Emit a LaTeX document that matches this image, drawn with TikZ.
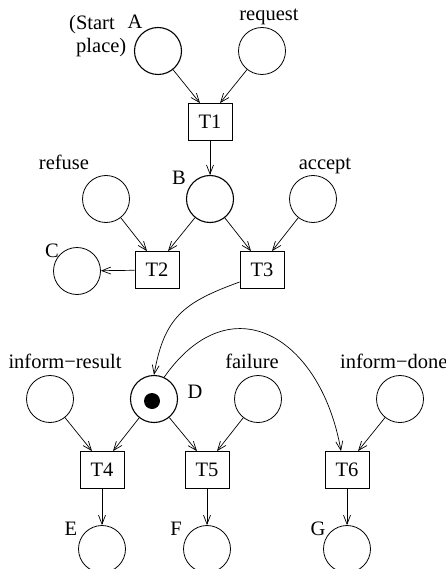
\documentclass[tikz,border=0pt]{standalone}
\usepackage{fontspec}
\setmainfont{Liberation Serif}
\usepackage{tikz}
\usetikzlibrary{arrows.meta,positioning}

\begin{document}
\begin{tikzpicture}[x=1pt,y=-1pt,font=\fontsize{20.5}{23}\selectfont,
  place/.style={circle,draw,line width=0.8pt,minimum size=47pt,inner sep=0pt},
  mainplace/.style={place,line width=1.1pt},
  trans/.style={rectangle,draw,line width=0.8pt,minimum width=44pt,minimum height=37pt,inner sep=0pt},
  token/.style={circle,fill,minimum size=16pt,inner sep=0pt},
  lbl/.style={inner sep=0pt,anchor=base},
  arc/.style={line width=0.7pt,-{Straight Barb[length=9pt,width=7pt]}}]
\useasboundingbox (0,0) rectangle (446,569);
% places
\node[mainplace] (a) at (158,51) {};
\node[place] (req) at (262,51) {};
\node[mainplace] (b) at (210,199) {};
\node[place] (ref) at (106,199) {};
\node[place] (acc) at (313,199) {};
\node[place] (c) at (77,271) {};
\node[place] (infres) at (50,399) {};
\node[mainplace] (d) at (154,399) {};
\node[place] (fail) at (258,399) {};
\node[place] (infdone) at (400,399) {};
\node[place] (e) at (102,549) {};
\node[place] (f) at (207,549) {};
\node[place] (g) at (347,549) {};
\node[token] (tok) at (152,401) {};
% transitions
\node[trans] (t1) at (210,122) {T1};
\node[trans] (t2) at (157,270) {T2};
\node[trans] (t3) at (262,270) {T3};
\node[trans] (t4) at (102,470) {T4};
\node[trans] (t5) at (207,470) {T5};
\node[trans] (t6) at (347,470) {T6};
% labels
\node[inner sep=0pt,anchor=north west,align=left] (startlbl) at (69,15) {(Start\\\hspace*{7pt}place)};
\node[lbl] (albl) at (135,29) {A};
\node[lbl] (reqlbl) at (269,21) {request};
\node[lbl] (blbl) at (179,185) {B};
\node[lbl] (reflbl) at (64,170) {refuse};
\node[lbl] (acclbl) at (325,170) {accept};
\node[lbl] (clbl) at (52,257) {C};
\node[lbl] (infreslbl) at (65,368) {inform−result};
\node[lbl] (faillbl) at (252,368) {failure};
\node[lbl,anchor=base west] (infdonelbl) at (340,368) {inform−done};
\node[lbl] (dlbl) at (195,398) {D};
\node[lbl] (elbl) at (71,535) {E};
\node[lbl] (flbl) at (176,535) {F};
\node[lbl] (glbl) at (318,535) {G};
% arcs
\draw[arc] (a) -- ([xshift=-10pt]t1.north);
\draw[arc] (req) -- ([xshift=10pt]t1.north);
\draw[arc] (t1) -- (b);
\draw[arc] (ref) -- ([xshift=-10pt]t2.north);
\draw[arc] (b) -- ([xshift=11pt]t2.north);
\draw[arc] (b) -- ([xshift=-11pt]t3.north);
\draw[arc] (acc) -- ([xshift=10pt]t3.north);
\draw[arc] (t2) -- (c);
\draw[arc] ([yshift=-12pt]t3.west) to[out=200,in=80,looseness=1.2] (d.north);
\draw[arc] (d.65) to[out=55,in=100,looseness=1.55] ([xshift=-6pt]t6.north);
\draw[arc] (infres) -- ([xshift=-10pt]t4.north);
\draw[arc] (d) -- ([xshift=11pt]t4.north);
\draw[arc] (d) -- ([xshift=-10pt]t5.north);
\draw[arc] (fail) -- ([xshift=10pt]t5.north);
\draw[arc] (infdone) -- ([xshift=11pt]t6.north);
\draw[arc] (t4) -- (e);
\draw[arc] (t5) -- (f);
\draw[arc] (t6) -- (g);
\end{tikzpicture}
\end{document}
